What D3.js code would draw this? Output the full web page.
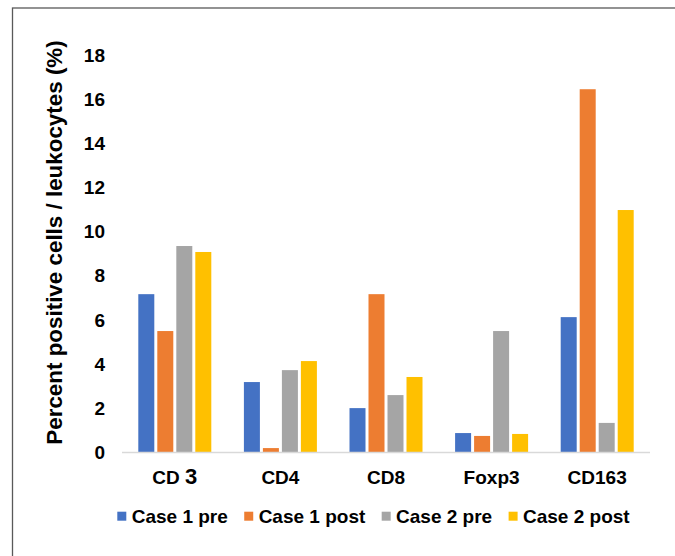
<!DOCTYPE html>
<html>
<head>
<meta charset="utf-8">
<script src="https://cdn.jsdelivr.net/npm/d3@7"></script>
<style>
  html, body { margin: 0; padding: 0; background: #fff; }
  svg { display: block; }
  text { font-family: "Liberation Sans", Arial, sans-serif; font-weight: bold; fill: #000; }
</style>
</head>
<body>
<svg id="chart" width="675" height="556"></svg>
<script>
const categories = ["CD 3", "CD4", "CD8", "Foxp3", "CD163"];
const seriesNames = ["Case 1 pre", "Case 1 post", "Case 2 pre", "Case 2 post"];
const case1Pre  = [7.17, 3.19, 2.01, 0.88, 6.13];
const case1Post = [5.50, 0.20, 7.17, 0.75, 16.45];
const case2Pre  = [9.35, 3.73, 2.60, 5.50, 1.34];
const case2Post = [9.08, 4.14, 3.42, 0.84, 10.98];
const yTicks = [0, 2, 4, 6, 8, 10, 12, 14, 16, 18];
const colors = ["#4472c4", "#ed7d31", "#a5a5a5", "#ffc000"];

const seriesValues = [case1Pre, case1Post, case2Pre, case2Post];

const svg = d3.select("#chart");

// outer frame
svg.append("rect")
  .attr("x", 12.5).attr("y", 8)
  .attr("width", 700).attr("height", 600)
  .attr("fill", "none").attr("stroke", "#595959").attr("stroke-width", 1.3);

const plotLeft = 122, plotRight = 650, plotTop = 55, plotBottom = 452.5;

const y = d3.scaleLinear().domain([0, 18]).range([plotBottom, plotTop]);
const x0 = d3.scaleBand().domain(categories).range([plotLeft, plotRight]).padding(0);
const groupW = 73;
const x1 = d3.scaleBand().domain(seriesNames).range([0, groupW]).paddingInner(3 / 19).paddingOuter(0);

// bars
const g = svg.append("g");
categories.forEach((cat, ci) => {
  const gx = x0(cat) + (x0.bandwidth() - groupW) / 2;
  seriesNames.forEach((s, si) => {
    const v = seriesValues[si][ci];
    g.append("rect")
      .attr("x", gx + x1(s))
      .attr("y", y(v))
      .attr("width", x1.bandwidth())
      .attr("height", y(0) - y(v))
      .attr("fill", colors[si]);
  });
});

// x axis line
svg.append("line")
  .attr("x1", plotLeft).attr("x2", plotRight)
  .attr("y1", plotBottom).attr("y2", plotBottom)
  .attr("stroke", "#d9d9d9").attr("stroke-width", 1.5);

// y tick labels
const yAxis = d3.axisLeft(y).tickValues(yTicks).tickSize(0).tickPadding(0);
const ya = svg.append("g").attr("transform", "translate(105,0)").call(yAxis);
ya.select(".domain").remove();
ya.selectAll("text")
  .style("font-family", "'Liberation Sans', Arial, sans-serif")
  .style("font-weight", "bold")
  .style("font-size", "19px")
  .attr("fill", "#000");

// x labels
const xl = svg.append("g");
categories.forEach(cat => {
  const t = xl.append("text")
    .attr("x", x0(cat) + x0.bandwidth() / 2)
    .attr("y", 484)
    .attr("text-anchor", "middle")
    .style("font-size", "19px");
  if (cat === "CD 3") {
    t.append("tspan").text("CD ");
    t.append("tspan").text("3").style("font-size", "22px");
  } else {
    t.text(cat);
  }
});

// y title
svg.append("text")
  .attr("transform", "translate(62,242.5) rotate(-90)")
  .attr("text-anchor", "middle")
  .style("font-size", "22.4px")
  .text("Percent positive cells / leukocytes (%)");

// legend
let lx = 117.3;
const ly = 522.7;
seriesNames.forEach((s, i) => {
  svg.append("rect")
    .attr("x", lx).attr("y", ly - 11)
    .attr("width", 9).attr("height", 9)
    .attr("fill", colors[i]);
  const t = svg.append("text")
    .attr("x", lx + 14.4).attr("y", ly)
    .style("font-size", "19px")
    .text(s);
  const w = t.node().getComputedTextLength();
  lx = lx + 14.4 + w + 16.4;
});
</script>
</body>
</html>
